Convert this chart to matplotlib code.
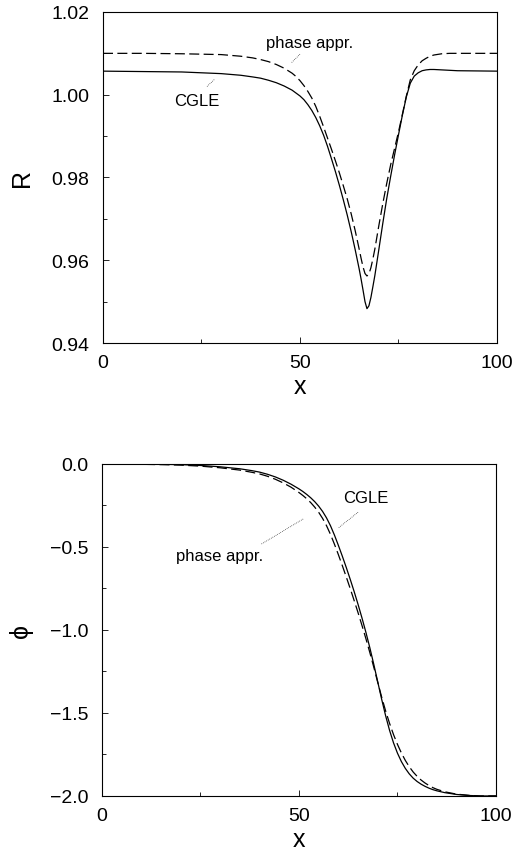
import numpy as np
import matplotlib
matplotlib.use("Agg")
from matplotlib import pyplot as plt
from matplotlib.ticker import MultipleLocator

# Amplitude R(x): CGLE solution and phase approximation
xR = [0, 10, 20, 25, 30, 35, 38, 40, 42, 44, 46, 48, 49, 50, 51, 52, 53, 54, 55, 56,
      57, 58, 59, 60, 61, 62, 63, 64, 65, 65.5, 66, 66.5, 67, 67.5, 68, 68.5, 69,
      70, 71, 72, 73, 74, 75, 76, 77, 78, 79, 80, 81, 82, 83, 84, 86, 88, 90, 100]
R_cgle = [1.0057, 1.0056, 1.0055, 1.0053, 1.0051, 1.0047, 1.0043, 1.0040, 1.0035,
          1.0029, 1.0021, 1.0011, 1.0004, 0.9997, 0.9988, 0.9976, 0.9962, 0.9945,
          0.9925, 0.9902, 0.9875, 0.9845, 0.9814, 0.9781, 0.9746, 0.9709, 0.9669,
          0.9626, 0.9580, 0.9555, 0.9528, 0.9500, 0.9483, 0.9490, 0.9510, 0.9536,
          0.9563, 0.9625, 0.9688, 0.9748, 0.9802, 0.9854, 0.9903, 0.9951, 0.9995,
          1.0028, 1.0045, 1.0053, 1.0058, 1.0060, 1.0061, 1.0061, 1.0060, 1.0059,
          1.0058, 1.0057]
R_phase = [1.0100, 1.0100, 1.0099, 1.0098, 1.0097, 1.0093, 1.0089, 1.0085, 1.0080,
           1.0073, 1.0064, 1.0052, 1.0044, 1.0034, 1.0022, 1.0008, 0.9992, 0.9972,
           0.9948, 0.9922, 0.9895, 0.9868, 0.9840, 0.9811, 0.9780, 0.9748, 0.9712,
           0.9672, 0.9628, 0.9605, 0.9584, 0.9568, 0.9562, 0.9567, 0.9582, 0.9603,
           0.9627, 0.9683, 0.9736, 0.9785, 0.9830, 0.9870, 0.9910, 0.9953, 0.9997,
           1.0036, 1.0058, 1.0072, 1.0082, 1.0088, 1.0093, 1.0096, 1.0099, 1.0100,
           1.0100, 1.0100]

# Phase phi(x)
xP = [0, 10, 15, 20, 25, 30, 35, 38, 40, 42, 44, 46, 48, 50, 51, 52, 53, 54, 55, 56,
      57, 58, 59, 60, 61, 62, 63, 64, 65, 66, 67, 68, 69, 70, 71, 72, 73, 74, 75,
      76, 77, 78, 79, 80, 81, 82, 83, 84, 85, 87, 90, 93, 96, 100]
P_cgle = [0.0, -0.001, -0.002, -0.004, -0.009, -0.017, -0.029, -0.040, -0.049,
          -0.062, -0.078, -0.098, -0.122, -0.150, -0.166, -0.184, -0.204, -0.227,
          -0.254, -0.286, -0.325, -0.372, -0.428, -0.490, -0.555, -0.623, -0.694,
          -0.768, -0.846, -0.928, -1.015, -1.108, -1.208, -1.313, -1.418, -1.517,
          -1.605, -1.680, -1.742, -1.793, -1.834, -1.867, -1.893, -1.913, -1.929,
          -1.942, -1.953, -1.962, -1.969, -1.980, -1.991, -1.997, -2.0, -2.0]
P_phase = [0.0, -0.002, -0.004, -0.007, -0.013, -0.023, -0.037, -0.050, -0.060,
           -0.074, -0.092, -0.114, -0.140, -0.172, -0.190, -0.210, -0.233, -0.260,
           -0.291, -0.328, -0.372, -0.424, -0.483, -0.546, -0.612, -0.680, -0.750,
           -0.822, -0.896, -0.973, -1.053, -1.137, -1.225, -1.316, -1.405, -1.488,
           -1.563, -1.630, -1.689, -1.741, -1.786, -1.824, -1.856, -1.882, -1.904,
           -1.922, -1.937, -1.950, -1.960, -1.975, -1.989, -1.996, -2.0, -2.0]

plt.rcParams['font.family'] = ['Liberation Sans', 'DejaVu Sans']

fig = plt.figure(figsize=(5.15, 8.53), dpi=100)
ax1 = fig.add_axes([0.200, 0.5967, 0.765, 0.3881])
ax2 = fig.add_axes([0.198, 0.0657, 0.765, 0.3892])

dash = (0, (8, 3.5))
lw = 0.9

ax1.plot(xR, R_cgle, color='black', lw=lw)
ax1.plot(xR, R_phase, color='black', lw=lw, linestyle=dash)
ax1.set_xlim(0, 100)
ax1.set_ylim(0.94, 1.02)
ax1.yaxis.set_major_locator(MultipleLocator(0.02))
ax1.yaxis.set_minor_locator(MultipleLocator(0.01))
ax1.set_ylabel('R', fontsize=18, labelpad=12)

ax1.text(52.5, 1.0127, 'phase appr.', fontsize=12, ha='center', va='center')
ax1.plot([50.0, 47.9], [1.0098, 1.0078], color='black', lw=0.5, linestyle=':')
ax1.text(23.8, 0.9987, 'CGLE', fontsize=12, ha='center', va='center')
ax1.plot([26.4, 28.4], [1.0020, 1.0038], color='black', lw=0.5, linestyle=':')

ax2.plot(xP, P_cgle, color='black', lw=lw)
ax2.plot(xP, P_phase, color='black', lw=lw, linestyle=dash)
ax2.set_xlim(0, 100)
ax2.set_ylim(-2.0, 0.0)
ax2.yaxis.set_major_locator(MultipleLocator(0.5))
ax2.yaxis.set_minor_locator(MultipleLocator(0.25))
ax2.set_ylabel('\u03d5', fontsize=18, labelpad=12)

ax2.text(67.0, -0.205, 'CGLE', fontsize=12, ha='center', va='center')
ax2.plot([65.0, 59.9], [-0.291, -0.387], color='black', lw=0.5, linestyle=':')
ax2.text(29.9, -0.552, 'phase appr.', fontsize=12, ha='center', va='center')
ax2.plot([40.5, 51.1], [-0.482, -0.331], color='black', lw=0.5, linestyle=':')

for ax in (ax1, ax2):
    ax.xaxis.set_major_locator(MultipleLocator(50))
    ax.xaxis.set_minor_locator(MultipleLocator(25))
    ax.set_xlabel('x', fontsize=18, labelpad=2)
    ax.tick_params(axis='both', which='both', direction='in', top=False, right=False,
                   labelsize=14, width=0.6)
    ax.tick_params(axis='x', which='major', length=4, pad=8)
    ax.tick_params(axis='y', which='major', length=4, pad=10)
    ax.tick_params(which='minor', length=3)
    for s in ax.spines.values():
        s.set_linewidth(0.8)

fig.savefig('out.png', dpi=100)
